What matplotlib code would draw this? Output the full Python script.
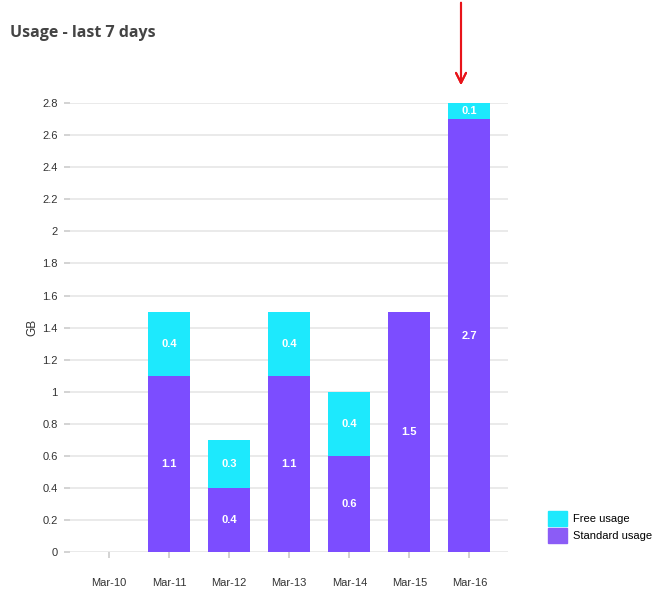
import matplotlib.pyplot as plt
from matplotlib.patches import Patch

days = ['Mar-10', 'Mar-11', 'Mar-12', 'Mar-13', 'Mar-14', 'Mar-15', 'Mar-16']
standard = [0, 1.1, 0.4, 1.1, 0.6, 1.5, 2.7]
free = [0, 0.4, 0.3, 0.4, 0.4, 0, 0.1]
yticks = [0, 0.2, 0.4, 0.6, 0.8, 1, 1.2, 1.4, 1.6, 1.8, 2, 2.2, 2.4, 2.6, 2.8]

PURPLE = '#7c4dff'
CYAN = '#1de9fd'
SANS = ['Liberation Sans', 'DejaVu Sans']

plt.rcParams['font.family'] = SANS

fig = plt.figure(figsize=(6.68, 6.1), dpi=100)
ax = fig.add_axes([0.105, 0.095, 0.656, 0.736])

x = list(range(len(days)))
ax.bar(x, standard, width=0.7, color=PURPLE, zorder=3)
ax.bar(x, free, width=0.7, bottom=standard, color=CYAN, zorder=3)

for i in x:
    if standard[i] > 0:
        ax.text(i, standard[i] / 2, f'{standard[i]:g}', ha='center', va='center',
                color='white', fontsize=8, fontweight='bold', zorder=4)
    if free[i] > 0:
        ax.text(i, standard[i] + free[i] / 2, f'{free[i]:g}', ha='center', va='center',
                color='white', fontsize=8, fontweight='bold', zorder=4)

ax.set_xlim(-0.65, 6.65)
ax.set_ylim(0, 2.8)
ax.set_xticks(x)
ax.set_xticklabels(days)
ax.set_yticks(yticks)
ax.set_yticklabels([f'{v:g}' for v in yticks])
ax.tick_params(axis='x', length=4, width=1.2, color='#cccccc', pad=15, labelsize=8, labelcolor='#333333')
ax.tick_params(axis='y', length=4, width=1.2, color='#cccccc', pad=5, labelsize=8, labelcolor='#333333')
ax.grid(axis='y', color='#e6e6e6', linewidth=1.2, zorder=0)
ax.set_axisbelow(True)
for s in ax.spines.values():
    s.set_visible(False)
ax.set_ylabel('GB', fontsize=8.5, color='#333333', labelpad=3)

fig.text(10 / 668, 1 - 33 / 610, 'Usage - last 7 days', fontsize=11.5, fontweight='bold',
         color='#444444', ha='left', va='center', family=['Open Sans', 'DejaVu Sans'])

handles = [Patch(color=CYAN, label='Free usage'), Patch(color='#8b5cf6', label='Standard usage')]
fig.legend(handles=handles, loc='upper left', bbox_to_anchor=(540 / 668, 1 - 503 / 610),
           frameon=False, fontsize=8, handlelength=1.7, handleheight=1.75,
           handletextpad=0.6, labelspacing=0.15, borderpad=0.2)

# red arrow pointing at the last bar
fig.add_artist(plt.annotate('', xy=(461 / 668, 1 - 88 / 610), xytext=(461 / 668, 1.0),
                            xycoords='figure fraction', textcoords='figure fraction',
                            arrowprops=dict(arrowstyle='->', color='#e8141a', lw=1.5,
                                            mutation_scale=18)))

fig.savefig('out.png', dpi=100)
